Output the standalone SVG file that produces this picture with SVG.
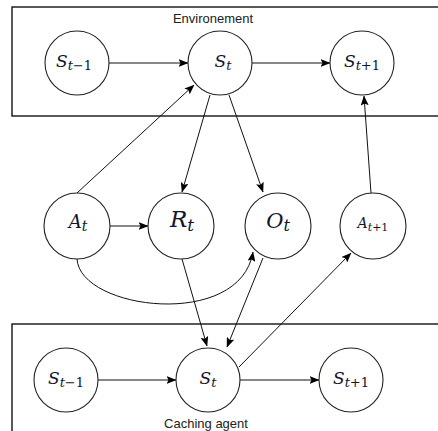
<svg xmlns="http://www.w3.org/2000/svg" width="438" height="431" viewBox="0 0 438 431">
<style>
.box{fill:none;stroke:#000;stroke-width:1.3}
.node circle{fill:#fff;stroke:#222;stroke-width:1.1}
.lbl{font-family:"DejaVu Serif",serif;font-style:italic;fill:#14142b;text-anchor:middle}
.up{font-style:normal}
.cap{font-family:"Liberation Sans",Arial,sans-serif;font-size:13px;fill:#222;text-anchor:middle}
.edge{fill:none;stroke:#111;stroke-width:1}
</style>
<defs>
<marker id="arr" viewBox="0 0 10 8" refX="9.5" refY="4" markerWidth="10" markerHeight="8" markerUnits="userSpaceOnUse" orient="auto">
<path d="M0,0 L10,4 L0,8 L2,4 z" fill="#000"/>
</marker>
</defs>
<rect class="box" x="12" y="7" width="440" height="109"/>
<rect class="box" x="12" y="324" width="440" height="120"/>
<text class="cap" x="213" y="23">Environement</text>
<text class="cap" x="206" y="428">Caching agent</text>
<g id="connectors">
<line class="edge" x1="109" y1="63" x2="188" y2="63" marker-end="url(#arr)"/>
<line class="edge" x1="252" y1="63" x2="330" y2="63" marker-end="url(#arr)"/>
<line class="edge" x1="77" y1="193" x2="194" y2="85" marker-end="url(#arr)"/>
<line class="edge" x1="210" y1="95" x2="182" y2="192" marker-end="url(#arr)"/>
<line class="edge" x1="229" y1="95" x2="263" y2="192" marker-end="url(#arr)"/>
<line class="edge" x1="371" y1="193" x2="364" y2="96" marker-end="url(#arr)"/>
<line class="edge" x1="110" y1="226" x2="148" y2="226" marker-end="url(#arr)"/>
<path class="edge" d="M77,259 C80,310 240,330 253,252" marker-end="url(#arr)"/>
<line class="edge" x1="182" y1="259" x2="207" y2="346" marker-end="url(#arr)"/>
<line class="edge" x1="263" y1="258" x2="227" y2="347" marker-end="url(#arr)"/>
<line class="edge" x1="239" y1="367" x2="351" y2="253" marker-end="url(#arr)"/>
<line class="edge" x1="98" y1="380" x2="176" y2="380" marker-end="url(#arr)"/>
<line class="edge" x1="240" y1="380" x2="319" y2="380" marker-end="url(#arr)"/>
</g>
<g id="env-s-prev" class="node"><circle cx="77" cy="63" r="32"/><text class="lbl" x="74" y="67" font-size="17">S<tspan font-size="13" dy="3">t</tspan><tspan class="up" font-size="13">−1</tspan></text></g>
<g id="env-s-t" class="node"><circle cx="220" cy="63" r="32"/><text class="lbl" x="223" y="67" font-size="17">S<tspan font-size="13" dy="3">t</tspan></text></g>
<g id="env-s-next" class="node"><circle cx="362" cy="63" r="32"/><text class="lbl" x="362" y="67" font-size="17">S<tspan font-size="13" dy="3">t</tspan><tspan class="up" font-size="13">+1</tspan></text></g>
<g id="a-t" class="node"><circle cx="77" cy="226" r="33"/><text class="lbl" x="78" y="228" font-size="18">A<tspan font-size="14" dy="3">t</tspan></text></g>
<g id="r-t" class="node"><circle cx="181" cy="226" r="33"/><text class="lbl" x="182" y="227" font-size="23">R<tspan font-size="17" dy="4">t</tspan></text></g>
<g id="o-t" class="node"><circle cx="278" cy="226" r="33"/><text class="lbl" x="278" y="228" font-size="21">O<tspan font-size="16" dy="3">t</tspan></text></g>
<g id="a-next" class="node"><circle cx="373" cy="226" r="33"/><text class="lbl" x="373" y="228" font-size="14">A<tspan font-size="11" dy="3">t</tspan><tspan class="up" font-size="11">+1</tspan></text></g>
<g id="ag-s-prev" class="node"><circle cx="66" cy="380" r="32"/><text class="lbl" x="66" y="384" font-size="17">S<tspan font-size="13" dy="3">t</tspan><tspan class="up" font-size="13">−1</tspan></text></g>
<g id="ag-s-t" class="node"><circle cx="208" cy="380" r="32"/><text class="lbl" x="208" y="384" font-size="17">S<tspan font-size="13" dy="3">t</tspan></text></g>
<g id="ag-s-next" class="node"><circle cx="351" cy="380" r="32"/><text class="lbl" x="351" y="384" font-size="17">S<tspan font-size="13" dy="3">t</tspan><tspan class="up" font-size="13">+1</tspan></text></g>
</svg>
